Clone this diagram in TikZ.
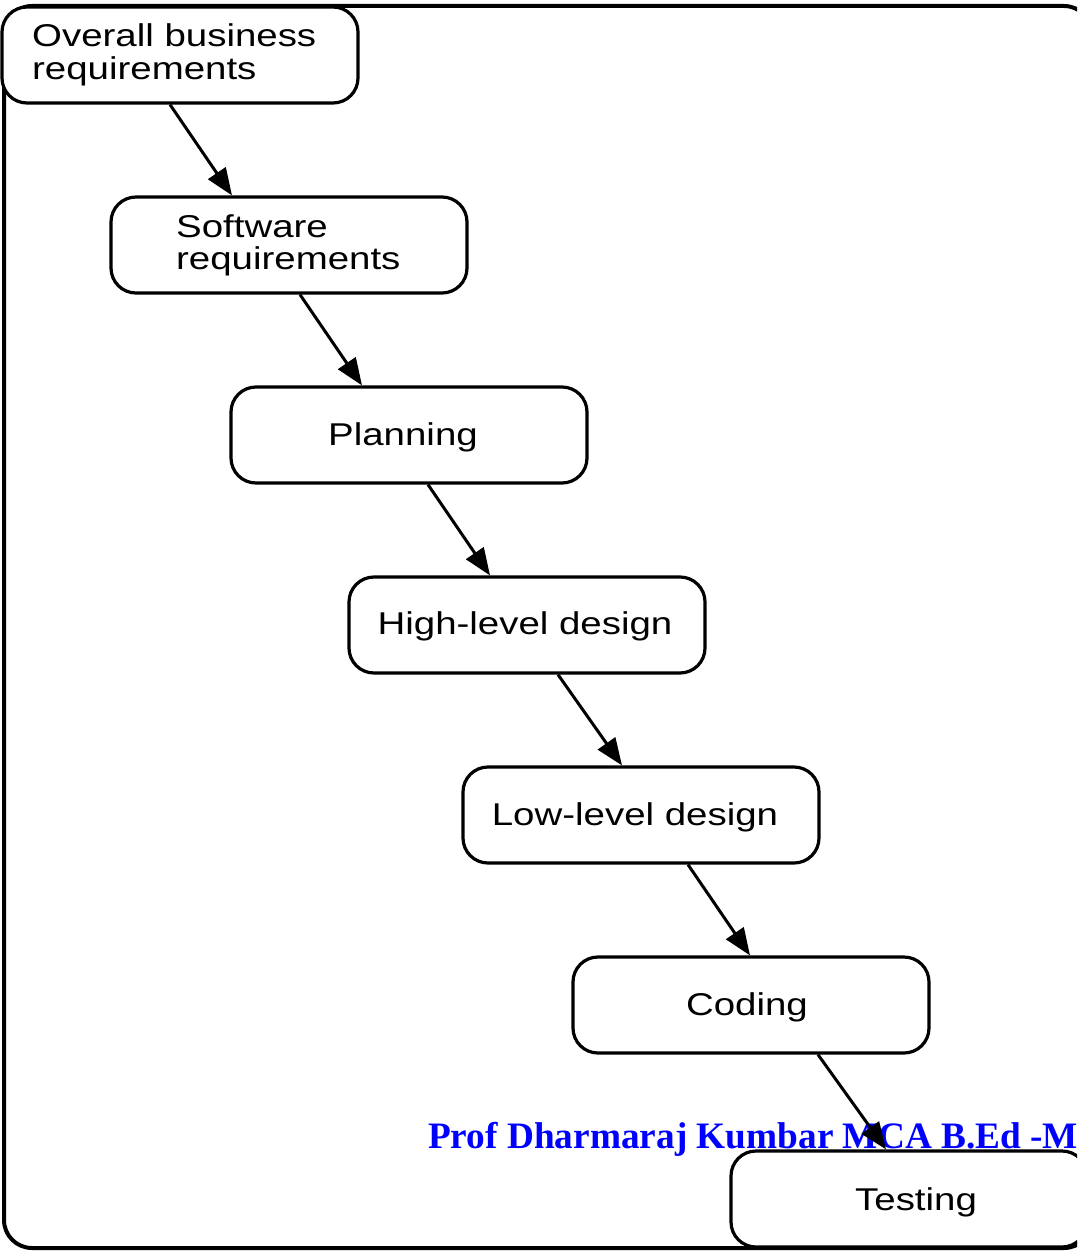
\documentclass[tikz,border=0pt]{standalone}
\usepackage{fontspec}
\usepackage{graphicx}
\setmainfont{Liberation Sans}
\newfontfamily\creditfont{Liberation Serif}
\usetikzlibrary{arrows.meta}
% labels are set slightly widened, as in the original chart
\newcommand\widetext[1]{\scalebox{1.22}[1]{#1}}
\tikzset{
  stage/.style={draw, line width=3.2pt, rounded corners=25pt, fill=white,
    minimum width=356pt, minimum height=96pt, inner sep=0pt},
  label/.style={inner sep=0pt, font=\fontsize{31.5}{32}\selectfont},
  flow/.style={line width=3pt, -{Triangle[length=27pt,width=21pt]}},
}
\begin{document}
\begin{tikzpicture}[x=1pt, y=-1pt]
\useasboundingbox (0,0) rectangle (1077,1252);
\clip (0,0) rectangle (1077,1252);
\fill[white] (0,0) rectangle (1077,1252);

% surrounding frame
\draw[line width=4pt, rounded corners=28pt] (4,6) rectangle (1092,1248);

% process stages
\node[stage] (b1) at (180,55)  {};
\node[stage] (b2) at (289,245) {};
\node[stage] (b3) at (409,435) {};
\node[stage] (b4) at (527,625) {};
\node[stage] (b5) at (641,815) {};
\node[stage] (b6) at (751,1005) {};
\node[stage] (b7) at (909,1199) {};

% stage labels
\node[label, anchor=base west] (t1) at (32,47)
  {\widetext{\begin{tabular}[t]{@{}l@{}}Overall business\\requirements\end{tabular}}};
\node[label, anchor=base west] (t2) at (176,237)
  {\widetext{\begin{tabular}[t]{@{}l@{}}Software\\requirements\end{tabular}}};
\node[label, anchor=base] (t3) at (403,445)  {\widetext{Planning}};
\node[label, anchor=base] (t4) at (525,634)  {\widetext{High-level design}};
\node[label, anchor=base] (t5) at (635,825)  {\widetext{Low-level design}};
\node[label, anchor=base] (t6) at (747,1015) {\widetext{Coding}};
\node[label, anchor=base] (t7) at (916,1210) {\widetext{Testing}};

% author credit
\node[inner sep=0pt, anchor=base west, text=blue,
      font=\creditfont\bfseries\fontsize{37.3}{40}\selectfont] (credit)
  at (428,1148) {Prof Dharmaraj Kumbar MCA B.Ed -M};

% flow between stages
\draw[flow] ([xshift=-10pt]b1.south) -- ([xshift=-57pt]b2.north);
\draw[flow] ([xshift=11pt]b2.south)  -- ([xshift=-47pt]b3.north);
\draw[flow] ([xshift=19pt]b3.south)  -- ([xshift=-37pt]b4.north);
\draw[flow] ([xshift=31pt]b4.south)  -- ([xshift=-19pt]b5.north);
\draw[flow] ([xshift=47pt]b5.south)  -- ([xshift=-1pt]b6.north);
\draw[flow] ([xshift=67pt]b6.south)  -- ([xshift=-23pt]b7.north);
\end{tikzpicture}
\end{document}
